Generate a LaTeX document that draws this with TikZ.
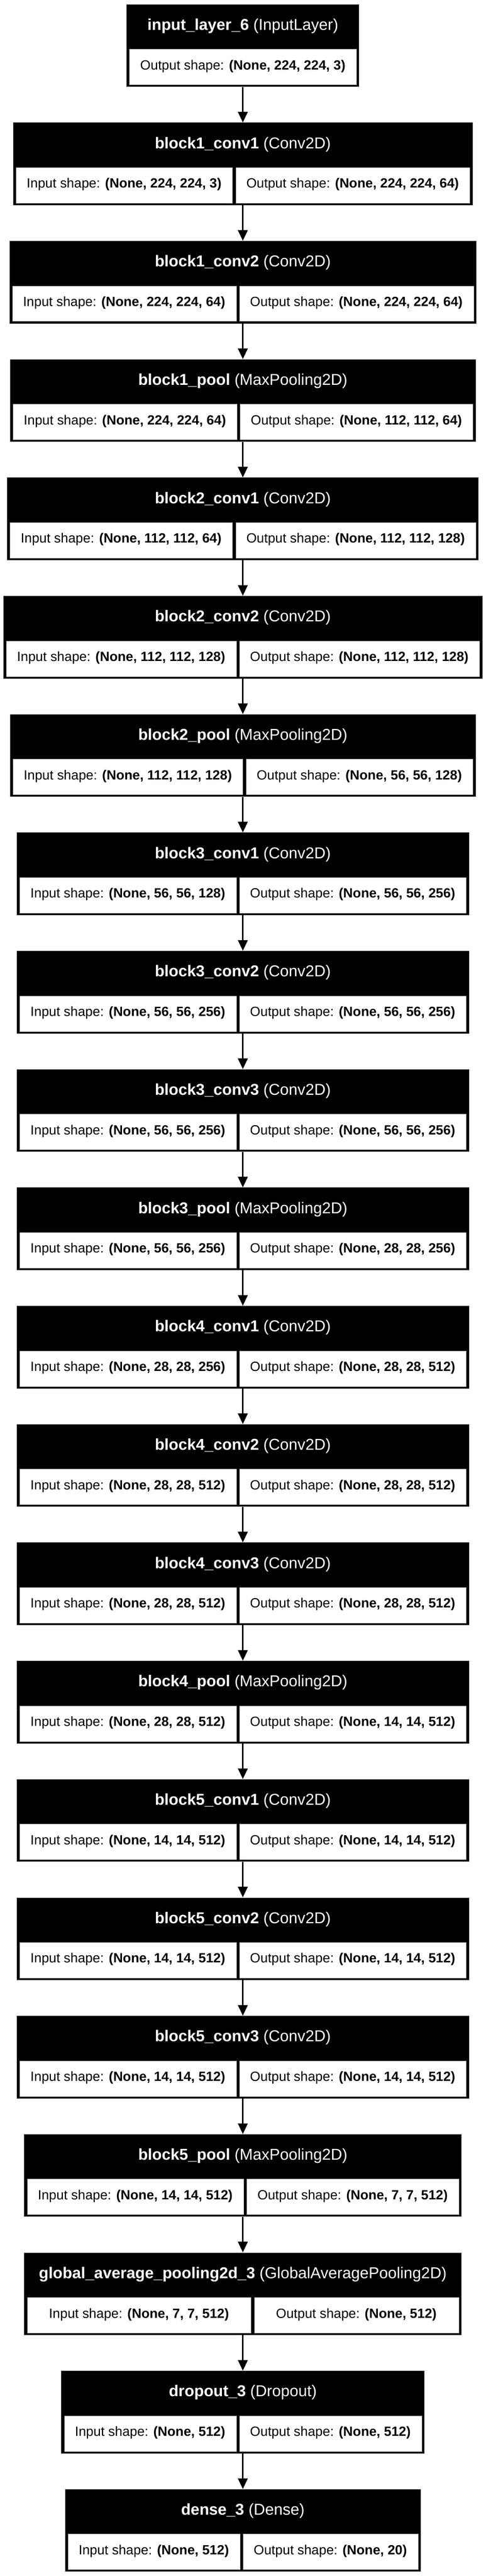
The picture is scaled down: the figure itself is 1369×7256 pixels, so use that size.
\documentclass[tikz,border=0pt]{standalone}
\usepackage{fontspec}
\setmainfont{Liberation Sans}
\usetikzlibrary{arrows.meta}
\newdimen\LwA \newdimen\LwB \newdimen\LwT
\newcommand\Lbody{\fontsize{37.6pt}{45pt}\selectfont}
\newcommand\Ltitlefont{\fontsize{44.4pt}{53pt}\selectfont}
\tikzset{
  lbox/.style={fill=black, draw=gray!60, line width=1pt, inner sep=0pt, outer sep=0pt, anchor=north, minimum height=233pt},
  lcell/.style={fill=white, draw=gray!70, line width=1pt, inner sep=0pt, anchor=north west, minimum height=100pt},
  ltitle/.style={text=white, inner sep=0pt, anchor=base, font=\Ltitlefont},
  ltext/.style={text=black, inner sep=0pt, anchor=base, font=\Lbody},
  arr/.style={line width=5pt, -{Triangle[length=30pt,width=27pt]}},
}
\makeatletter
% store the texts of a layer and the widths they take
\newcommand\Ldef[5]{%
  \settowidth\LwA{\Lbody Input shape: \textbf{#4}}%
  \settowidth\LwB{\Lbody Output shape: \textbf{#5}}%
  \settowidth\LwT{\Ltitlefont\textbf{#2} (#3)}%
  \expandafter\xdef\csname Lwa@#1\endcsname{\strip@pt\LwA}%
  \expandafter\xdef\csname Lwb@#1\endcsname{\strip@pt\LwB}%
  \expandafter\xdef\csname Lwt@#1\endcsname{\strip@pt\LwT}%
  \expandafter\gdef\csname Lname@#1\endcsname{#2}%
  \expandafter\gdef\csname Ltype@#1\endcsname{#3}%
  \expandafter\gdef\csname Lin@#1\endcsname{#4}%
  \expandafter\gdef\csname Lout@#1\endcsname{#5}%
}
\makeatother
\newcommand\Ldraw[1]{%
  \edef\Lva{\csname Lwa@#1\endcsname}%
  \edef\Lvb{\csname Lwb@#1\endcsname}%
  \edef\Lvt{\csname Lwt@#1\endcsname}%
  \pgfmathsetmacro\Ltop{11.7+333.3*#1}%
  \pgfmathsetmacro\Lca{\Lva+61}%
  \pgfmathsetmacro\Lcb{\Lvb+61}%
  \pgfmathsetmacro\Lbw{max(\Lca+\Lcb+26,\Lvt+84)}%
  \pgfmathsetmacro\Lex{(\Lbw-\Lca-\Lcb-26)/2}%
  \pgfmathsetmacro\Lwa{\Lca+\Lex}%
  \pgfmathsetmacro\Lwb{\Lcb+\Lex}%
  \pgfmathsetmacro\Lxa{684.5-\Lbw/2+8.5}%
  \pgfmathsetmacro\Lxb{\Lxa+\Lwa+9}%
  \node[lbox, minimum width=\Lbw pt] (L#1) at (684.5,\Ltop) {};
  \node[ltitle] (T#1) at (684.5,\Ltop+73) {\textbf{\csname Lname@#1\endcsname} (\csname Ltype@#1\endcsname)};
  \node[lcell, minimum width=\Lwa pt] (A#1) at (\Lxa,\Ltop+126.5) {};
  \node[lcell, minimum width=\Lwb pt] (B#1) at (\Lxb,\Ltop+126.5) {};
  \node[ltext] (AT#1) at (\Lxa+\Lwa/2,\Ltop+184.5) {Input shape: \textbf{\csname Lin@#1\endcsname}};
  \node[ltext] (BT#1) at (\Lxb+\Lwb/2,\Ltop+184.5) {Output shape: \textbf{\csname Lout@#1\endcsname}};
}
\newcommand\Ldrawinput[1]{%
  \edef\Lvb{\csname Lwb@#1\endcsname}%
  \edef\Lvt{\csname Lwt@#1\endcsname}%
  \pgfmathsetmacro\Ltop{11.7+333.3*#1}%
  \pgfmathsetmacro\Lcb{\Lvb+61}%
  \pgfmathsetmacro\Lbw{max(\Lcb+17,\Lvt+84)}%
  \pgfmathsetmacro\Lwb{\Lbw-17}%
  \pgfmathsetmacro\Lxb{684.5-\Lbw/2+8.5}%
  \node[lbox, minimum width=\Lbw pt] (L#1) at (684.5,\Ltop) {};
  \node[ltitle] (T#1) at (684.5,\Ltop+73) {\textbf{\csname Lname@#1\endcsname} (\csname Ltype@#1\endcsname)};
  \node[lcell, minimum width=\Lwb pt] (B#1) at (\Lxb,\Ltop+126.5) {};
  \node[ltext] (BT#1) at (\Lxb+\Lwb/2,\Ltop+184.5) {Output shape: \textbf{\csname Lout@#1\endcsname}};
}
\begin{document}
\Ldef{0}{input\_layer\_6}{InputLayer}{}{(None, 224, 224, 3)}%
\Ldef{1}{block1\_conv1}{Conv2D}{(None, 224, 224, 3)}{(None, 224, 224, 64)}%
\Ldef{2}{block1\_conv2}{Conv2D}{(None, 224, 224, 64)}{(None, 224, 224, 64)}%
\Ldef{3}{block1\_pool}{MaxPooling2D}{(None, 224, 224, 64)}{(None, 112, 112, 64)}%
\Ldef{4}{block2\_conv1}{Conv2D}{(None, 112, 112, 64)}{(None, 112, 112, 128)}%
\Ldef{5}{block2\_conv2}{Conv2D}{(None, 112, 112, 128)}{(None, 112, 112, 128)}%
\Ldef{6}{block2\_pool}{MaxPooling2D}{(None, 112, 112, 128)}{(None, 56, 56, 128)}%
\Ldef{7}{block3\_conv1}{Conv2D}{(None, 56, 56, 128)}{(None, 56, 56, 256)}%
\Ldef{8}{block3\_conv2}{Conv2D}{(None, 56, 56, 256)}{(None, 56, 56, 256)}%
\Ldef{9}{block3\_conv3}{Conv2D}{(None, 56, 56, 256)}{(None, 56, 56, 256)}%
\Ldef{10}{block3\_pool}{MaxPooling2D}{(None, 56, 56, 256)}{(None, 28, 28, 256)}%
\Ldef{11}{block4\_conv1}{Conv2D}{(None, 28, 28, 256)}{(None, 28, 28, 512)}%
\Ldef{12}{block4\_conv2}{Conv2D}{(None, 28, 28, 512)}{(None, 28, 28, 512)}%
\Ldef{13}{block4\_conv3}{Conv2D}{(None, 28, 28, 512)}{(None, 28, 28, 512)}%
\Ldef{14}{block4\_pool}{MaxPooling2D}{(None, 28, 28, 512)}{(None, 14, 14, 512)}%
\Ldef{15}{block5\_conv1}{Conv2D}{(None, 14, 14, 512)}{(None, 14, 14, 512)}%
\Ldef{16}{block5\_conv2}{Conv2D}{(None, 14, 14, 512)}{(None, 14, 14, 512)}%
\Ldef{17}{block5\_conv3}{Conv2D}{(None, 14, 14, 512)}{(None, 14, 14, 512)}%
\Ldef{18}{block5\_pool}{MaxPooling2D}{(None, 14, 14, 512)}{(None, 7, 7, 512)}%
\Ldef{19}{global\_average\_pooling2d\_3}{GlobalAveragePooling2D}{(None, 7, 7, 512)}{(None, 512)}%
\Ldef{20}{dropout\_3}{Dropout}{(None, 512)}{(None, 512)}%
\Ldef{21}{dense\_3}{Dense}{(None, 512)}{(None, 20)}%
\begin{tikzpicture}[x=1pt,y=-1pt]
\fill[white] (0,0) rectangle (1369,7256);
\useasboundingbox (0,0) rectangle (1369,7256);
\Ldrawinput{0}
\foreach \i in {1,...,21} {\Ldraw{\i}}
\foreach \i [evaluate=\i as \j using int(\i+1)] in {0,...,20}
  \draw[arr] (L\i.south) -- (L\j.north);
\end{tikzpicture}
\end{document}
